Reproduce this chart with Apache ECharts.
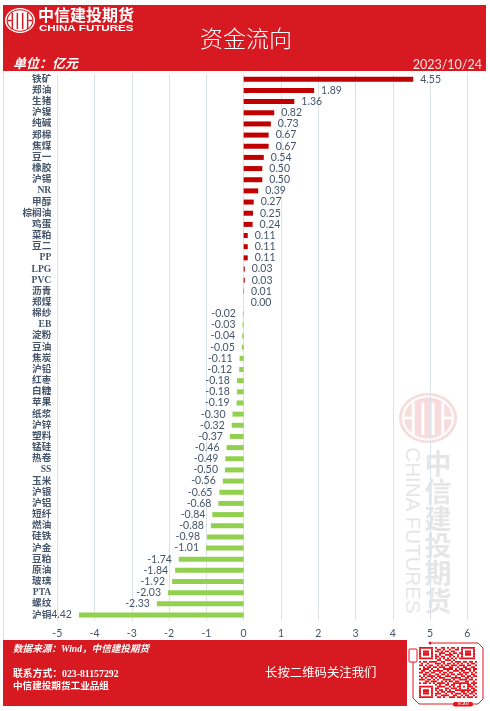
<!DOCTYPE html>
<html><head><meta charset="utf-8">
<style>html,body{margin:0;padding:0;background:#fff}#c{width:490px;height:711px}</style>
<script src="https://cdn.jsdelivr.net/npm/echarts@6/dist/echarts.min.js"></script>
</head><body><div id="c"></div>
<script>
var categories = ['铁矿','郑油','生猪','沪镍','纯碱','郑棉','焦煤','豆一','橡胶','沪锡','NR','甲醇','棕榈油','鸡蛋','菜粕','豆二','PP','LPG','PVC','沥青','郑煤','棉纱','EB','淀粉','豆油','焦炭','沪铅','红枣','白糖','苹果','纸浆','沪锌','塑料','锰硅','热卷','SS','玉米','沪银','沪铝','短纤','燃油','硅铁','沪金','豆粕','原油','玻璃','PTA','螺纹','沪铜'];
var values = [4.55,1.89,1.36,0.82,0.73,0.67,0.67,0.54,0.50,0.50,0.39,0.27,0.25,0.24,0.11,0.11,0.11,0.03,0.03,0.01,0.00,-0.02,-0.03,-0.04,-0.05,-0.11,-0.12,-0.18,-0.18,-0.19,-0.30,-0.32,-0.37,-0.46,-0.49,-0.50,-0.56,-0.65,-0.68,-0.84,-0.88,-0.98,-1.01,-1.74,-1.84,-1.92,-2.03,-2.33,-4.42];
var RED='#D71A21', TXT='#44546A', SER="'Liberation Serif','Noto Sans CJK SC',serif", CJK="'Noto Sans CJK SC',sans-serif";

var qrRows = [
'11111110100110101101011111110',
'10000010011010010011010000010',
'10111010110101101100010111010',
'10111010001110010110110111010',
'10111010101001111001010111010',
'10000010110110010101010000010',
'11111110101010101010111111110',
'00000000011001110100000000000',
'10110111100110001011101101101',
'01001000111010110101010010110',
'11010110010101101110111011001',
'00101101101110011001001100110',
'10111010010011111010110111011',
'01100101111100100111011001010',
'11011011001011011000101110101',
'00110100110110101101110100110',
'10101111011001110010011011011',
'01010010101110001111100110100',
'11101101010011110100111101101',
'00011011100101011011000110010',
'10110101011110100111111110111',
'00000000101001101100100011010',
'11111110011110010101101011101',
'10000010110001101110100010110',
'10111010101101010011111111011',
'10111010010110111100011010110',
'10111010111001001011101101101',
'10000010100111100110010110010',
'11111110011010011101101011101'];

function logo(cx,cy,rx,ry,col,bg,z){
  var s=rx/15, o=[
    {type:'ellipse',z:z,shape:{cx:cx,cy:cy,rx:rx,ry:ry},style:{fill:col}},
    {type:'ellipse',z:z,shape:{cx:cx,cy:cy,rx:rx*0.9,ry:ry*0.9},style:{fill:bg}},
    {type:'ellipse',z:z,shape:{cx:cx,cy:cy,rx:rx*0.82,ry:ry*0.82},style:{fill:col}}];
  [-8.4,-3.4,1.9,6.9].forEach(function(d){
    o.push({type:'rect',z:z,shape:{x:cx+d*s,y:cy-ry*0.62,width:1.5*s,height:ry*1.3},style:{fill:bg}});
  });
  o.push({type:'rect',z:z,shape:{x:cx-rx*0.82,y:cy-0.7*s,width:4*s,height:1.4*s},style:{fill:bg}});
  o.push({type:'rect',z:z,shape:{x:cx+rx*0.82-4*s,y:cy-0.7*s,width:4*s,height:1.4*s},style:{fill:bg}});
  return o;
}
function txt(x,y,t,font,fill,extra){
  var st={x:x,y:y,text:t,font:font,fill:fill,textVerticalAlign:'middle'};
  for(var k in (extra||{})) st[k]=extra[k];
  return {type:'text',z:5,style:st};
}
var g=[];
// watermark
logo(428,418,29,25,'#F8DCDD','#FFFFFF',-1).forEach(function(e){g.push(e)});
'中信建投期货'.split('').forEach(function(c,i){
  g.push({type:'text',z:-1,style:{x:438,y:464+i*27.3,text:c,font:"700 27px "+CJK,fill:'#E6E6E6',textAlign:'center',textVerticalAlign:'middle'}});
});
g.push({type:'text',z:-1,x:412,y:530.5,rotation:-Math.PI/2,style:{x:0,y:0,text:'CHINA FUTURES',font:"400 20.5px 'Liberation Sans',sans-serif",fill:'#E6E6E6',textAlign:'center',textVerticalAlign:'middle'}});
// left frame
g.push({type:'rect',z:1,shape:{x:3,y:71,width:1,height:569},style:{fill:'#D9DEE5'}});
// header
g.push({type:'rect',z:4,shape:{x:3,y:5,width:483,height:66},style:{fill:RED}});
logo(20,20.5,15,12.5,'#FFFFFF',RED,5).forEach(function(e){g.push(e)});
g.push(txt(38,14.5,'中信建投期货',"700 16px "+CJK,'#fff'));
g.push({type:'text',z:5,x:39,y:28.2,scaleX:1.26,style:{x:0,y:0,text:'CHINA FUTURES',font:"700 9.2px 'Liberation Sans',sans-serif",fill:'#fff',textVerticalAlign:'middle'}});
g.push(txt(246,38.5,'资金流向',"300 23px "+CJK,'#fff',{textAlign:'center'}));
g.push(txt(13,63,'单位：亿元',"italic 700 13px "+CJK,'#fff'));
g.push(txt(482,65,'2023/10/24',"400 12.5px Lato,sans-serif",'#F3E4E4',{textAlign:'right'}));
// footer
g.push({type:'rect',z:4,shape:{x:3,y:640,width:404,height:66},style:{fill:RED}});
g.push({type:'rect',z:4,shape:{x:407,y:640,width:79,height:66},style:{fill:'#fff'}});
g.push(txt(13,650,'数据来源：Wind，中信建投期货',"italic 700 9.6px "+SER,'#fff'));
g.push(txt(13,674,'联系方式：023-81157292',"700 9.8px "+SER,'#fff'));
g.push(txt(13,687,'中信建投期货工业品组',"700 9.6px "+SER,'#fff'));
g.push(txt(265,672,'长按二维码关注我们',"400 12.4px "+CJK,'#fff'));
// QR
qrRows.forEach(function(r,j){
  r.split('').forEach(function(b,i){
    if(b==='1') g.push({type:'rect',z:5,shape:{x:419+i*2,y:647+j*1.76,width:2,height:1.76},style:{fill:'#E5141C'}});
  });
});
g.push({type:'polyline',z:5,shape:{points:[[430,643],[478,643],[483,648],[483,699],[478,704],[472,704]]},style:{fill:'none',stroke:'#E5141C',lineWidth:1}});
g.push({type:'polyline',z:5,shape:{points:[[413,662],[413,698],[419,704],[454,704]]},style:{fill:'none',stroke:'#E5141C',lineWidth:1}});
g.push({type:'circle',z:5,shape:{cx:430,cy:643,r:1.5},style:{fill:'#E5141C'}});
g.push({type:'rect',z:5,shape:{x:409,y:649,width:8,height:13,r:1},style:{fill:'#fff',stroke:'#E5141C',lineWidth:1}});
g.push({type:'rect',z:5,shape:{x:453,y:702,width:20,height:4.5,r:2},style:{fill:'#E5141C'}});
g.push(txt(463,704.3,'SCAN',"400 4px 'Liberation Sans',sans-serif",'#fff',{textAlign:'center'}));

var chart=echarts.init(document.getElementById('c'),null,{renderer:'canvas'});
chart.setOption({
  animation:false,
  grid:{left:57.3,right:22.7,top:73.7,bottom:90.4,containLabel:false},
  xAxis:{type:'value',min:-5,max:6,interval:1,
    axisLine:{show:false},axisTick:{show:false},
    splitLine:{show:true,lineStyle:{color:'#DDE2E8',width:1}},
    axisLabel:{color:TXT,fontFamily:'Lato,sans-serif',fontSize:10.5,margin:8}},
  yAxis:{type:'category',inverse:true,data:categories,
    axisLine:{show:false,onZero:false},axisTick:{show:false},splitLine:{show:false},
    axisLabel:{interval:0,color:TXT,fontFamily:SER,fontWeight:700,fontSize:9.6,margin:6,align:'right'}},
  series:[{type:'bar',barWidth:5,
    data:values.map(function(v){return {value:v,
      itemStyle:{color:v<0?'#92D050':'#C00000'},
      label:{position:v<0?'left':'right'}};}),
    label:{show:true,distance:7,color:TXT,fontFamily:'Lato,sans-serif',fontSize:10.5,
      formatter:function(p){return p.value.toFixed(2);}}}],
  graphic:g
});
</script></body></html>
